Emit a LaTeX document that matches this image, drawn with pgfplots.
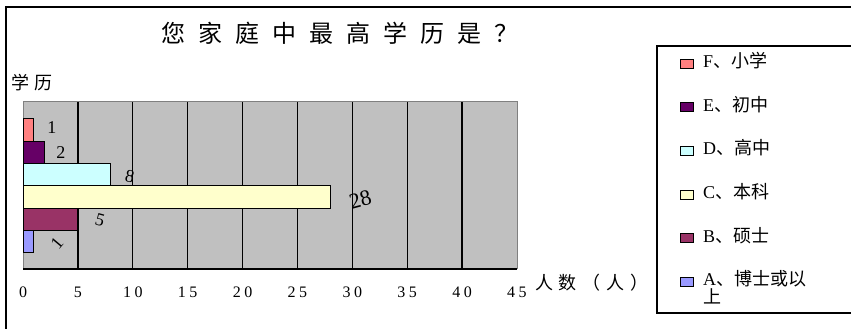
\documentclass[border=0pt]{standalone}
\usepackage{pgfplots}
\pgfplotsset{compat=1.18}
\usepackage{fontspec}
\setmainfont{Liberation Serif}
\newfontfamily\cjk{Noto Sans CJK SC}
\newfontfamily\cjkwide[LetterSpace=32]{Noto Sans CJK SC}
\newfontfamily\cjktitle[LetterSpace=54]{Noto Sans CJK SC}
\newfontfamily\tickfont[LetterSpace=22]{Liberation Serif}
\definecolor{cF}{HTML}{FF8080}
\definecolor{cE}{HTML}{660066}
\definecolor{cD}{HTML}{CCFFFF}
\definecolor{cC}{HTML}{FFFFCC}
\definecolor{cB}{HTML}{993366}
\definecolor{cA}{HTML}{9999FF}
\definecolor{plotbg}{HTML}{C0C0C0}
\definecolor{boxgray}{HTML}{808080}
\begin{document}
\begin{tikzpicture}
\begin{scope}[x=1pt,y=1pt]
\useasboundingbox (0,0) rectangle (851,329);
\fill[white] (0,0) rectangle (851,329);
\draw[line width=1.8pt] (6,-5) -- (6,322) -- (860,322);
\draw[line width=1.3pt] (860,16) -- (657,16) -- (657,283) -- (860,283);
\node[font=\fontsize{24}{26}\selectfont\cjktitle] at (340,296) {您家庭中最高学历是？};
\node[anchor=west, inner sep=0pt, font=\fontsize{18}{20}\selectfont\cjkwide] at (11,246) {学历};
\node[anchor=west, inner sep=0pt, font=\fontsize{18}{20}\selectfont\cjkwide] at (535,46) {人数（人）};
\end{scope}
\begin{axis}[
  at={(23pt,60pt)}, anchor=south west,
  scale only axis, width=494pt, height=167pt,
  xmin=0, xmax=45, ymin=-0.231, ymax=7.254,
  xtick={5,10,...,40}, ytick=\empty,
  extra x ticks={0,45}, extra x tick style={grid=none},
  xmajorgrids, major grid style={black, line width=1.3pt},
  major tick length=0pt,
  axis line style={boxgray, line width=1pt},
  axis background/.style={fill=plotbg},
  xbar, bar width=1, bar shift=0pt,
  /pgf/number format/assume math mode=true,
  ticklabel style={font=\fontsize{16}{18}\selectfont\tickfont},
  xticklabel style={yshift=-14pt},
  legend style={draw=none, fill=none, at={(axis description cs:1.33,1.2785)}, anchor=north west,
    inner sep=0pt, row sep=27.6pt, column sep=9pt, font=\fontsize{18}{20}\selectfont,
    nodes={inner sep=0pt, text height=12pt, text depth=4pt}},
  legend cell align=left,
  legend image code/.code={\draw[#1, draw=black, line width=0.8pt] (0pt,-4.5pt) rectangle (13pt,4.5pt);},
  nodes near coords,
  after end axis/.code={\draw[black, line width=1.2pt] (rel axis cs:0,0) -- (rel axis cs:1,0);},
]
\addplot[fill=cF, draw=black, line width=1pt,
  every node near coord/.style={anchor=center, xshift=18pt, yshift=2pt, font=\fontsize{18}{20}\selectfont, text=black}]
  coordinates {(1,6)};
\addlegendentry{F{\cjk 、小学}}
\addplot[fill=cE, draw=black, line width=1pt,
  every node near coord/.style={anchor=center, xshift=16pt, yshift=0pt, font=\fontsize{18}{20}\selectfont, text=black}]
  coordinates {(2,5)};
\addlegendentry{E{\cjk 、初中}}
\addplot[fill=cD, draw=black, line width=1pt,
  every node near coord/.style={anchor=center, xshift=19pt, yshift=-1.5pt, rotate=-10, font=\fontsize{18}{20}\selectfont, text=black}]
  coordinates {(8,4)};
\addlegendentry{D{\cjk 、高中}}
\addplot[fill=cC, draw=black, line width=1pt,
  every node near coord/.style={anchor=center, xshift=30pt, yshift=-3pt, rotate=15, font=\fontsize{22}{24}\selectfont, text=black}]
  coordinates {(28,3)};
\addlegendentry{C{\cjk 、本科}}
\addplot[fill=cB, draw=black, line width=1pt,
  every node near coord/.style={anchor=center, xshift=22pt, yshift=-1pt, rotate=-15, font=\fontsize{18}{20}\selectfont, text=black}]
  coordinates {(5,2)};
\addlegendentry{B{\cjk 、硕士}}
\addplot[fill=cA, draw=black, line width=1pt,
  every node near coord/.style={anchor=center, xshift=23pt, yshift=-1.5pt, rotate=50, font=\fontsize{18}{20}\selectfont, text=black}]
  coordinates {(1,1)};
\addlegendentry{\smash{\rlap{\raisebox{-18pt}{\cjk 上}}}A{\cjk 、博士或以}}
\end{axis}
\end{tikzpicture}
\end{document}
